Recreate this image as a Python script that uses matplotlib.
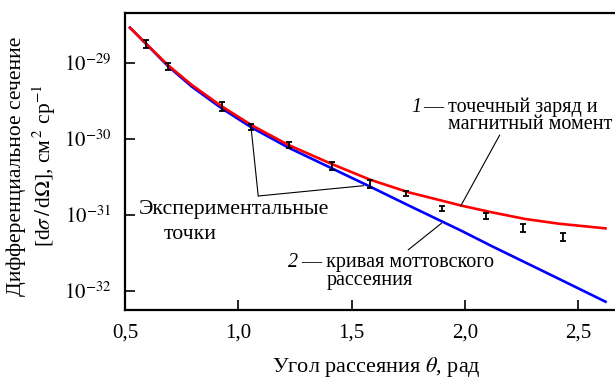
import matplotlib
matplotlib.use("Agg")
import matplotlib.pyplot as plt
from matplotlib.ticker import FixedLocator, FixedFormatter, NullLocator

plt.rcParams["font.family"] = ["Liberation Serif", "DejaVu Serif"]
plt.rcParams["mathtext.fontset"] = "stix"

# theory curves: 1 - point charge + magnetic moment, 2 - Mott scattering
theta_curve = [0.522, 0.596, 0.689, 0.795, 0.927, 1.060, 1.222, 1.413, 1.582,
               1.752, 1.987, 2.120, 2.267, 2.415, 2.621]
sigma_point_magn = [2.88e-29, 1.74e-29, 9.32e-30, 5.09e-30, 2.67e-30, 1.501e-30,
                    8.28e-31, 4.66e-31, 2.90e-31, 1.98e-31, 1.32e-31,
                    1.08e-31, 8.83e-32, 7.66e-32, 6.65e-32]
sigma_mott = [2.88e-29, 1.73e-29, 9.04e-30, 4.84e-30, 2.51e-30, 1.40e-30,
              7.64e-31, 4.09e-31, 2.35e-31, 1.33e-31, 6.14e-32,
              3.87e-32, 2.37e-32, 1.445e-32, 7.23e-33]

# experimental points with error bars
theta_pts = [0.593, 0.689, 0.930, 1.056, 1.223, 1.415, 1.582, 1.741, 1.901, 2.094, 2.259, 2.435]
sigma_pts = [1.75e-29, 8.9e-30, 2.59e-30, 1.44e-30, 8.22e-31, 4.44e-31,
             2.61e-31, 1.90e-31, 1.23e-31, 9.68e-32, 6.68e-32, 5.08e-32]
sigma_lo = [1.54e-29, 7.9e-30, 2.32e-30, 1.31e-30, 7.50e-31, 3.89e-31,
            2.26e-31, 1.75e-31, 1.135e-31, 8.85e-32, 5.89e-32, 4.49e-32]
sigma_hi = [1.96e-29, 1.0e-29, 3.01e-30, 1.56e-30, 9.08e-31, 5.00e-31,
            2.90e-31, 2.08e-31, 1.32e-31, 1.06e-31, 7.60e-32, 5.78e-32]

x_ticks = [0.5, 1.0, 1.5, 2.0, 2.5]
x_ticklabels = ["0,5", "1,0", "1,5", "2,0", "2,5"]
y_ticks = [1e-29, 1e-30, 1e-31, 1e-32]
y_ticklabels = [r"$10^{-29}$", r"$10^{-30}$", r"$10^{-31}$", r"$10^{-32}$"]

fig = plt.figure(figsize=(6.15, 3.79), dpi=100)
ax = fig.add_axes([0.2033, 0.182, 0.7967, 0.7837])

ax.plot(theta_curve, sigma_mott, color="#0000ff", lw=1.9, zorder=2)
ax.plot(theta_curve, sigma_point_magn, color="#ff0000", lw=1.9, zorder=3)

yerr = [[s - lo for s, lo in zip(sigma_pts, sigma_lo)],
        [hi - s for s, hi in zip(sigma_pts, sigma_hi)]]
ax.errorbar(theta_pts, sigma_pts, yerr=yerr, fmt="none", ecolor="black",
            elinewidth=1.3, capsize=2.5, capthick=1.3, zorder=4)

ax.set_yscale("log")
ax.set_xlim(0.5, 2.663)
ax.set_ylim(5.62e-33, 4.5e-29)

ax.xaxis.set_major_locator(FixedLocator(x_ticks))
ax.xaxis.set_major_formatter(FixedFormatter(x_ticklabels))
ax.yaxis.set_major_locator(FixedLocator(y_ticks))
ax.yaxis.set_major_formatter(FixedFormatter(y_ticklabels))
ax.yaxis.set_minor_locator(NullLocator())
ax.xaxis.set_minor_locator(NullLocator())
ax.tick_params(direction="in", length=7, width=1.2, labelsize=15)
ax.tick_params(axis="x", pad=10)
ax.tick_params(axis="y", pad=10)

ax.spines["right"].set_visible(False)
for s in ["left", "bottom", "top"]:
    ax.spines[s].set_linewidth(1.6)

ax.set_xlabel(r"Угол рассеяния $\theta$, рад", fontsize=16)
ax.xaxis.set_label_coords(0.512, -0.15)
fig.text(32 / 615, 1 - 166 / 379,
         "Дифференциальное сечение\n"
         r"[d$\sigma\,/\,$d$\mathit{\Omega}$], см$^{\,2}$ ср$^{-1}$",
         rotation=90, ha="center", va="center", multialignment="center",
         fontsize=15.5, linespacing=1.2)

# leader lines and labels
line_kw = dict(arrowprops=dict(arrowstyle="-", color="black", lw=0.8,
                               shrinkA=0, shrinkB=0))
ax.annotate("", xy=(theta_pts[3], sigma_pts[3]), xytext=(1.088, 1.77e-31), **line_kw)
ax.annotate("", xy=(1.553, 2.42e-31), xytext=(1.088, 1.77e-31), **line_kw)
ax.annotate("", xy=(1.982, 1.31e-31), xytext=(2.154, 1.12e-30), **line_kw)
ax.annotate("", xy=(1.897, 7.76e-32), xytext=(1.750, 3.47e-32), **line_kw)

ax.text(0.559, 1.02e-31, "Экспериментальные", fontsize=15.7, va="baseline", ha="left")
ax.text(0.788, 4.78e-32, "точки", fontsize=15.7, va="baseline", ha="center")

ax.text(1.765, 2.27e-30, "1", fontsize=14.5, style="italic", va="baseline", ha="left")
ax.text(1.818, 2.27e-30, "— точечный заряд и", fontsize=14.5, va="baseline", ha="left")
ax.text(1.926, 1.35e-30, "магнитный момент", fontsize=14.5, va="baseline", ha="left")
ax.text(1.221, 2.085e-32, "2", fontsize=14.5, style="italic", va="baseline", ha="left")
ax.text(1.279, 2.085e-32, "— кривая моттовского", fontsize=14.5, va="baseline", ha="left")
ax.text(1.390, 1.2e-32, "рассеяния", fontsize=14.5, va="baseline", ha="left")

fig.savefig("out.png", dpi=100)
